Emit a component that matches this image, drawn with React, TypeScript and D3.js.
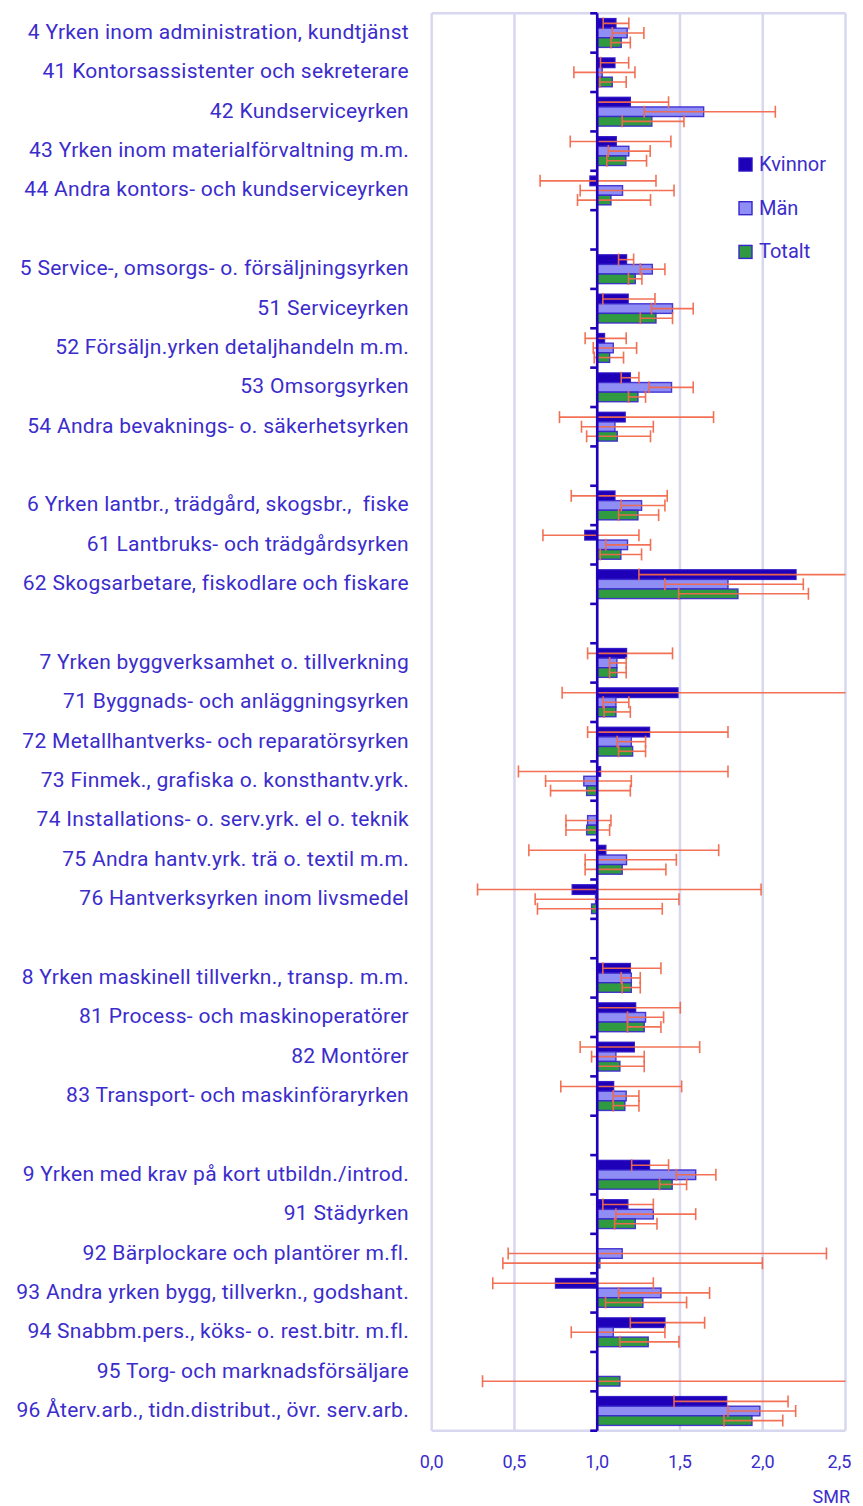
import React from "react";
import * as d3 from "d3";

const categories = [
  "4 Yrken inom administration, kundtjänst",
  "41 Kontorsassistenter och sekreterare",
  "42 Kundserviceyrken",
  "43 Yrken inom materialförvaltning m.m.",
  "44 Andra kontors- och kundserviceyrken",
  "",
  "5 Service-, omsorgs- o. försäljningsyrken",
  "51 Serviceyrken",
  "52 Försäljn.yrken detaljhandeln m.m.",
  "53 Omsorgsyrken",
  "54 Andra bevaknings- o. säkerhetsyrken",
  "",
  "6 Yrken lantbr., trädgård, skogsbr.,  fiske",
  "61 Lantbruks- och trädgårdsyrken",
  "62 Skogsarbetare, fiskodlare och fiskare",
  "",
  "7 Yrken byggverksamhet o. tillverkning",
  "71 Byggnads- och anläggningsyrken",
  "72 Metallhantverks- och reparatörsyrken",
  "73 Finmek., grafiska o. konsthantv.yrk.",
  "74 Installations- o. serv.yrk. el o. teknik",
  "75 Andra hantv.yrk. trä o. textil m.m.",
  "76 Hantverksyrken inom livsmedel",
  "",
  "8 Yrken maskinell tillverkn., transp. m.m.",
  "81 Process- och maskinoperatörer",
  "82 Montörer",
  "83 Transport- och maskinföraryrken",
  "",
  "9 Yrken med krav på kort utbildn./introd.",
  "91 Städyrken",
  "92 Bärplockare och plantörer m.fl.",
  "93 Andra yrken bygg, tillverkn., godshant.",
  "94 Snabbm.pers., köks- o. rest.bitr. m.fl.",
  "95 Torg- och marknadsförsäljare",
  "96 Återv.arb., tidn.distribut., övr. serv.arb.",
];

const kvinnor = [1.113, 1.107, 1.2, 1.115, 0.956, null, 1.177, 1.187, 1.044, 1.2, 1.169, null, 1.107, 0.925, 2.201, null, 1.177, 1.488, 1.316, 1.02, null, 1.052, 0.849, null, 1.2, 1.232, 1.224, 1.099, null, 1.316, 1.185, null, 0.748, 1.409, null, 1.782];
const kvinnorLow = [1.036, 1.02, 1.0, 0.837, 0.655, null, 1.129, 1.034, 0.927, 1.145, 0.772, null, 0.843, 0.672, 1.252, null, 0.942, 0.788, 0.942, 0.524, null, 0.587, 0.277, null, 1.034, 1.0, 0.897, 0.78, null, 1.208, 1.034, null, 0.369, 1.2, null, 1.464];
const kvinnorHigh = [1.191, 1.19, 1.431, 1.445, 1.355, null, 1.22, 1.349, 1.175, 1.252, 1.703, null, 1.423, 1.252, 2.9, null, 1.455, 3.2, 1.79, 1.79, null, 1.734, 1.99, null, 1.385, 1.502, 1.619, 1.51, null, 1.431, 1.339, null, 1.339, 1.649, null, 2.153];

const man = [1.181, 1.03, 1.643, 1.191, 1.153, null, 1.333, 1.455, 1.097, 1.449, 1.107, null, 1.268, 1.183, 1.79, null, 1.119, 1.113, 1.206, 0.919, 0.942, 1.177, 0.99, null, 1.206, 1.292, 1.113, 1.175, null, 1.595, 1.339, 1.151, 1.385, 1.097, null, 1.983];
const manLow = [1.091, 0.859, 1.284, 1.067, 0.897, null, 1.26, 1.328, 0.976, 1.314, 0.905, null, 1.145, 1.052, 1.409, null, 1.075, 1.036, 1.121, 0.688, 0.811, 0.927, 0.625, null, 1.145, 1.183, 0.966, 1.097, null, 1.478, 1.113, 0.462, 1.129, 0.843, null, 1.79];
const manHigh = [1.282, 1.228, 2.076, 1.32, 1.464, null, 1.409, 1.58, 1.238, 1.58, 1.339, null, 1.409, 1.322, 2.245, null, 1.175, 1.191, 1.292, 1.206, 1.083, 1.478, 1.494, null, 1.26, 1.401, 1.284, 1.252, null, 1.717, 1.595, 2.385, 1.679, 1.409, null, 2.199];

const totalt = [1.145, 1.091, 1.33, 1.173, 1.083, null, 1.23, 1.355, 1.075, 1.246, 1.121, null, 1.246, 1.143, 1.85, null, 1.119, 1.113, 1.214, 0.936, 0.936, 1.151, 0.966, null, 1.206, 1.284, 1.137, 1.167, null, 1.453, 1.23, 1.016, 1.276, 1.308, 1.137, 1.935];
const totaltLow = [1.083, 1.016, 1.151, 1.058, 0.881, null, 1.189, 1.26, 0.982, 1.189, 0.936, null, 1.129, 1.018, 1.492, null, 1.075, 1.042, 1.129, 0.718, 0.811, 0.927, 0.639, null, 1.151, 1.183, 1.0, 1.097, null, 1.377, 1.105, 0.43, 1.05, 1.137, 0.307, 1.766];
const totaltHigh = [1.2, 1.175, 1.524, 1.298, 1.322, null, 1.27, 1.455, 1.159, 1.292, 1.322, null, 1.371, 1.268, 2.276, null, 1.175, 1.2, 1.292, 1.2, 1.075, 1.415, 1.393, null, 1.26, 1.385, 1.284, 1.252, null, 1.54, 1.361, 1.998, 1.54, 1.494, 3.0, 2.121];

const xTicks = [0, 0.5, 1, 1.5, 2, 2.5];
const seriesNames = ["Kvinnor", "Män", "Totalt"];

const W = 863;
const H = 1506;
const plot = { left: 431.7, right: 845.5, top: 13.3, bottom: 1430.7 };
const TEXT = "#3b2ccc";
const FONT = "Roboto, 'Noto Sans', sans-serif";

export default function App() {
  const x = d3.scaleLinear().domain([0, 2.5]).range([plot.left, plot.right]);
  const y = d3
    .scaleBand<number>()
    .domain(d3.range(categories.length))
    .range([plot.top, plot.bottom])
    .padding(0);
  const inner = d3
    .scaleBand<number>()
    .domain([0, 1, 2])
    .range([0, y.bandwidth()])
    .paddingOuter(0.55)
    .paddingInner(0);

  const series = [
    { name: seriesNames[0], vals: kvinnor, lo: kvinnorLow, hi: kvinnorHigh, fill: "#1e00b9", stroke: "#2a12c4" },
    { name: seriesNames[1], vals: man, lo: manLow, hi: manHigh, fill: "#8e8ef4", stroke: "#3826cc" },
    { name: seriesNames[2], vals: totalt, lo: totaltLow, hi: totaltHigh, fill: "#2f9a40", stroke: "#3826cc" },
  ];

  const x1 = x(1);
  const capH = 12;
  const errColor = "#f2694c";

  return (
    <svg
      width={W}
      height={H}
      style={{ position: "absolute", left: 0, top: 0, background: "#fff" }}
      fontFamily={FONT}
    >
      <defs>
        <clipPath id="plotClip">
          <rect x={plot.left} y={plot.top - 10} width={plot.right - plot.left} height={plot.bottom - plot.top + 20} />
        </clipPath>
      </defs>
      {/* grid */}
      {xTicks.map((t) => (
        <line key={"g" + t} x1={x(t)} x2={x(t)} y1={plot.top} y2={plot.bottom} stroke="#d7d7f0" strokeWidth={2.5} />
      ))}
      <line x1={plot.left} x2={plot.right} y1={plot.top} y2={plot.top} stroke="#d7d7f0" strokeWidth={2.5} />
      <line x1={plot.left} x2={plot.right} y1={plot.bottom} y2={plot.bottom} stroke="#d7d7f0" strokeWidth={2.5} />

      {/* bars */}
      {series.map((s, si) =>
        s.vals.map((v, i) => {
          if (v == null) return null;
          const yy = (y(i) as number) + (inner(si) as number);
          const h = inner.bandwidth();
          const a = Math.min(x(v), x1);
          const w = Math.abs(x(v) - x1);
          return (
            <rect
              key={`b${si}-${i}`}
              x={a}
              y={yy}
              width={w}
              height={h}
              fill={s.fill}
              stroke={s.stroke}
              strokeWidth={1.4}
              strokeOpacity={0.9}
            />
          );
        })
      )}

      {/* error bars */}
      <g clipPath="url(#plotClip)">
        {series.map((s, si) =>
          s.vals.map((v, i) => {
            const lo = s.lo[i];
            const hi = s.hi[i];
            if (lo == null || hi == null) return null;
            const cy = (y(i) as number) + (inner(si) as number) + inner.bandwidth() / 2;
            return (
              <g key={`e${si}-${i}`} stroke={errColor} strokeWidth={1.6} strokeOpacity={0.95}>
                <line x1={x(lo)} x2={x(hi)} y1={cy} y2={cy} />
                <line x1={x(lo)} x2={x(lo)} y1={cy - capH / 2} y2={cy + capH / 2} />
                <line x1={x(hi)} x2={x(hi)} y1={cy - capH / 2} y2={cy + capH / 2} />
              </g>
            );
          })
        )}
      </g>

      {/* axis at 1.0 */}
      <line x1={x1} x2={x1} y1={plot.top} y2={plot.bottom} stroke="#2200bb" strokeWidth={2.6} />
      {d3.range(categories.length + 1).map((k) => {
        const yy = k < categories.length ? (y(k) as number) : plot.bottom;
        return <line key={"t" + k} x1={x1 - 7} x2={x1} y1={yy} y2={yy} stroke="#2200bb" strokeWidth={2.6} />;
      })}

      {/* category labels */}
      {categories.map((c, i) =>
        c ? (
          <text
            key={"l" + i}
            x={409}
            y={(y(i) as number) + y.bandwidth() / 2 - 1}
            textAnchor="end"
            dominantBaseline="central"
            fontSize={21}
            letterSpacing={0.3}
            fill={TEXT}
            style={{ whiteSpace: "pre" }}
          >
            {c}
          </text>
        ) : null
      )}

      {/* x tick labels */}
      {xTicks.map((t, i) => (
        <text
          key={"xl" + t}
          x={i === xTicks.length - 1 ? x(t) - 6 : x(t)}
          y={1461}
          textAnchor="middle"
          dominantBaseline="central"
          fontSize={18}
          fill={TEXT}
        >
          {d3.format(".1f")(t).replace(".", ",")}
        </text>
      ))}
      <text x={850} y={1496} textAnchor="end" dominantBaseline="central" fontSize={18} fill={TEXT}>
        SMR
      </text>

      {/* legend */}
      {series.map((s, si) => (
        <g key={"lg" + si} transform={`translate(739, ${158 + si * 43.7})`}>
          <rect x={0} y={0} width={13} height={13} fill={s.fill} stroke={s.stroke} strokeWidth={1.4} />
          <text x={20} y={6} dominantBaseline="central" fontSize={20} fill={TEXT}>
            {s.name}
          </text>
        </g>
      ))}
    </svg>
  );
}
